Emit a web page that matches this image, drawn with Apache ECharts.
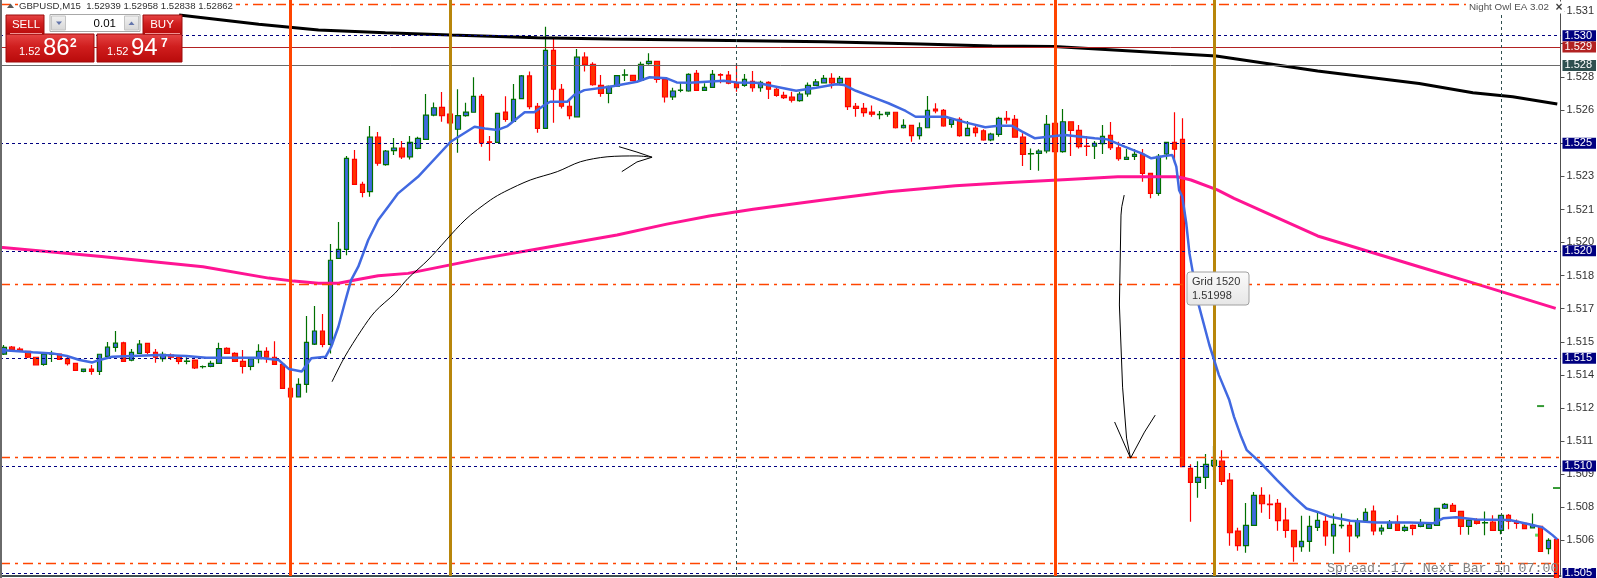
<!DOCTYPE html>
<html><head><meta charset="utf-8">
<script src="https://cdn.jsdelivr.net/npm/echarts@6/dist/echarts.min.js"></script>
<style>html,body{margin:0;padding:0;background:#fff;overflow:hidden}#c{width:1597px;height:578px}</style>
</head><body><div id="c"></div>
<script>
// ---------------- data ----------------
const symbolTitle = 'GBPUSD,M15  1.52939 1.52958 1.52838 1.52862';
const ohlc = [
[1.51520,1.51551,1.51515,1.51562],[1.51552,1.51542,1.51535,1.51557],[1.51543,1.51532,1.51529,1.51552],[1.51532,1.51505,1.51501,1.51532],
[1.51505,1.51470,1.51470,1.51505],[1.51472,1.51520,1.51465,1.51526],[1.51520,1.51521,1.51483,1.51535],[1.51520,1.51495,1.51495,1.51520],
[1.51498,1.51475,1.51467,1.51507],[1.51477,1.51444,1.51444,1.51477],[1.51439,1.51450,1.51435,1.51453],[1.51450,1.51439,1.51424,1.51469],
[1.51439,1.51519,1.51422,1.51519],[1.51509,1.51552,1.51507,1.51576],[1.51551,1.51571,1.51531,1.51627],[1.51572,1.51486,1.51486,1.51577],
[1.51491,1.51528,1.51487,1.51543],[1.51523,1.51566,1.51520,1.51585],[1.51570,1.51528,1.51519,1.51570],[1.51528,1.51505,1.51479,1.51543],
[1.51498,1.51519,1.51484,1.51531],[1.51515,1.51505,1.51492,1.51523],[1.51505,1.51486,1.51472,1.51515],[1.51486,1.51487,1.51473,1.51505],
[1.51492,1.51456,1.51450,1.51495],[1.51461,1.51462,1.51453,1.51467],[1.51463,1.51477,1.51459,1.51489],[1.51477,1.51545,1.51475,1.51572],
[1.51546,1.51523,1.51520,1.51552],[1.51523,1.51486,1.51483,1.51528],[1.51486,1.51463,1.51430,1.51539],[1.51463,1.51498,1.51445,1.51505],
[1.51498,1.51532,1.51477,1.51566],[1.51532,1.51505,1.51479,1.51552],[1.51505,1.51472,1.51469,1.51579],[1.51472,1.51360,1.51360,1.51472],
[1.51360,1.51321,1.51293,1.51399],[1.51321,1.51379,1.51319,1.51407],[1.51379,1.51574,1.51340,1.51697],[1.51566,1.51627,1.51562,1.51743],
[1.51627,1.51565,1.51551,1.51706],[1.51565,1.51956,1.51523,1.52031],[1.51965,1.52007,1.51965,1.52134],[1.52007,1.52430,1.51979,1.52441],
[1.52425,1.52309,1.52309,1.52469],[1.52309,1.52272,1.52249,1.52321],[1.52275,1.52528,1.52251,1.52580],[1.52528,1.52407,1.52395,1.52552],
[1.52401,1.52464,1.52395,1.52469],[1.52466,1.52478,1.52445,1.52524],[1.52478,1.52437,1.52427,1.52510],[1.52437,1.52504,1.52425,1.52534],
[1.52476,1.52523,1.52472,1.52530],[1.52518,1.52631,1.52518,1.52729],[1.52631,1.52665,1.52625,1.52690],[1.52667,1.52628,1.52600,1.52738],
[1.52635,1.52595,1.52585,1.52701],[1.52565,1.52628,1.52456,1.52751],[1.52628,1.52645,1.52623,1.52688],[1.52644,1.52718,1.52644,1.52807],
[1.52718,1.52502,1.52484,1.52729],[1.52507,1.52504,1.52419,1.52534],[1.52504,1.52639,1.52504,1.52639],[1.52645,1.52611,1.52600,1.52718],
[1.52602,1.52704,1.52602,1.52775],[1.52707,1.52813,1.52707,1.52817],[1.52813,1.52670,1.52658,1.52834],[1.52672,1.52569,1.52549,1.52687],
[1.52569,1.52932,1.52569,1.53042],[1.52932,1.52751,1.52595,1.52988],[1.52751,1.52672,1.52662,1.52775],[1.52672,1.52628,1.52611,1.52709],
[1.52623,1.52900,1.52623,1.52938],[1.52900,1.52867,1.52833,1.52923],[1.52867,1.52772,1.52767,1.52876],[1.52769,1.52732,1.52716,1.52817],
[1.52732,1.52765,1.52686,1.52769],[1.52765,1.52814,1.52765,1.52814],[1.52817,1.52818,1.52789,1.52844],[1.52816,1.52791,1.52791,1.52816],
[1.52793,1.52867,1.52793,1.52879],[1.52870,1.52881,1.52865,1.52918],[1.52881,1.52797,1.52781,1.52881],[1.52797,1.52716,1.52689,1.52797],
[1.52716,1.52743,1.52701,1.52758],[1.52746,1.52747,1.52737,1.52781],[1.52743,1.52820,1.52740,1.52825],[1.52825,1.52746,1.52743,1.52840],
[1.52746,1.52760,1.52744,1.52779],[1.52760,1.52820,1.52760,1.52840],[1.52819,1.52817,1.52779,1.52825],[1.52817,1.52779,1.52774,1.52836],
[1.52779,1.52758,1.52740,1.52872],[1.52769,1.52797,1.52763,1.52822],[1.52788,1.52758,1.52740,1.52836],[1.52758,1.52783,1.52740,1.52791],
[1.52783,1.52751,1.52706,1.52788],[1.52751,1.52723,1.52716,1.52760],[1.52723,1.52712,1.52706,1.52740],[1.52714,1.52700,1.52689,1.52740],
[1.52698,1.52729,1.52693,1.52740],[1.52729,1.52769,1.52716,1.52783],[1.52769,1.52785,1.52766,1.52799],[1.52781,1.52802,1.52779,1.52817],
[1.52802,1.52781,1.52754,1.52825],[1.52781,1.52802,1.52774,1.52813],[1.52802,1.52670,1.52654,1.52805],[1.52672,1.52662,1.52623,1.52687],
[1.52662,1.52642,1.52623,1.52687],[1.52645,1.52635,1.52623,1.52676],[1.52633,1.52634,1.52611,1.52650],[1.52635,1.52644,1.52623,1.52647],
[1.52644,1.52572,1.52568,1.52644],[1.52572,1.52583,1.52568,1.52611],[1.52583,1.52535,1.52507,1.52583],[1.52535,1.52572,1.52518,1.52597],
[1.52572,1.52653,1.52572,1.52720],[1.52659,1.52650,1.52639,1.52686],[1.52653,1.52581,1.52577,1.52659],[1.52588,1.52611,1.52572,1.52616],
[1.52611,1.52535,1.52530,1.52621],[1.52535,1.52569,1.52534,1.52603],[1.52571,1.52549,1.52530,1.52583],[1.52558,1.52516,1.52512,1.52565],
[1.52516,1.52542,1.52509,1.52549],[1.52541,1.52616,1.52530,1.52623],[1.52616,1.52609,1.52591,1.52650],[1.52611,1.52528,1.52528,1.52631],
[1.52528,1.52448,1.52394,1.52546],[1.52451,1.52452,1.52376,1.52476],[1.52453,1.52464,1.52372,1.52472],[1.52464,1.52588,1.52453,1.52631],
[1.52593,1.52461,1.52376,1.52593],[1.52461,1.52600,1.52456,1.52659],[1.52600,1.52560,1.52441,1.52600],[1.52560,1.52484,1.52476,1.52585],
[1.52487,1.52485,1.52441,1.52534],[1.52486,1.52500,1.52427,1.52510],[1.52498,1.52532,1.52450,1.52585],[1.52537,1.52479,1.52469,1.52599],
[1.52479,1.52428,1.52419,1.52507],[1.52425,1.52435,1.52422,1.52473],[1.52439,1.52448,1.52422,1.52473],[1.52448,1.52360,1.52321,1.52473],
[1.52360,1.52267,1.52244,1.52360],[1.52267,1.52439,1.52256,1.52450],[1.52450,1.52504,1.52425,1.52507],[1.52504,1.52472,1.52407,1.52644],
[1.52518,1.50996,1.50996,1.52616],[1.50988,1.50923,1.50740,1.51007],[1.50923,1.50947,1.50852,1.51022],[1.50947,1.51007,1.50893,1.51055],
[1.51001,1.51026,1.50980,1.51092],[1.51022,1.50928,1.50911,1.51073],[1.50934,1.50689,1.50629,1.50967],[1.50697,1.50629,1.50605,1.50712],
[1.50629,1.50723,1.50596,1.50827],[1.50723,1.50863,1.50723,1.50878],[1.50863,1.50824,1.50782,1.50901],[1.50822,1.50820,1.50753,1.50867],
[1.50826,1.50745,1.50698,1.50846],[1.50748,1.50700,1.50666,1.50805],[1.50700,1.50624,1.50554,1.50700],[1.50624,1.50649,1.50601,1.50768],
[1.50649,1.50719,1.50601,1.50768],[1.50714,1.50747,1.50697,1.50790],[1.50742,1.50675,1.50629,1.50771],[1.50675,1.50728,1.50591,1.50779],
[1.50722,1.50723,1.50709,1.50779],[1.50723,1.50675,1.50598,1.50748],[1.50675,1.50742,1.50663,1.50756],[1.50745,1.50784,1.50742,1.50803],
[1.50790,1.50698,1.50678,1.50816],[1.50698,1.50711,1.50680,1.50726],[1.50709,1.50737,1.50706,1.50748],[1.50737,1.50700,1.50700,1.50771],
[1.50700,1.50714,1.50694,1.50726],[1.50723,1.50709,1.50678,1.50728],[1.50719,1.50733,1.50715,1.50753],[1.50709,1.50728,1.50706,1.50733],
[1.50723,1.50803,1.50723,1.50803],[1.50803,1.50821,1.50799,1.50827],[1.50816,1.50788,1.50785,1.50827],[1.50788,1.50719,1.50680,1.50788],
[1.50719,1.50748,1.50680,1.50756],[1.50748,1.50733,1.50728,1.50756],[1.50735,1.50736,1.50677,1.50788],[1.50739,1.50700,1.50697,1.50771],
[1.50700,1.50770,1.50682,1.50770],[1.50770,1.50743,1.50705,1.50776],[1.50742,1.50733,1.50708,1.50751],[1.50733,1.50708,1.50705,1.50733],
[1.50712,1.50723,1.50711,1.50779],[1.50719,1.50602,1.50602,1.50719],[1.50615,1.50654,1.50589,1.50664],[1.50658,1.50469,1.50469,1.50658]
];
const categories = ohlc.map((_, i) => String(i));

// moving averages: [bar index, price]
const blueMA = [[-0.5,1.51539],[3.6,1.51528],[6.1,1.51523],[7.9,1.51511],[9.5,1.51492],[11.1,1.51481],[12,1.51492],[13.6,1.51507],[16.1,1.51511],[19.5,1.51515],[22.9,1.51511],[25.4,1.51503],[32,1.51503],[34.5,1.51492],[35.8,1.51450],[37.4,1.51439],[38.6,1.51500],[40.4,1.51507],[41.1,1.51554],[42,1.51647],[42.9,1.51771],[43.6,1.51864],[44.5,1.51926],[45.75,1.52050],[47,1.52143],[48.25,1.52205],[49.5,1.52267],[52,1.52344],[56.1,1.52507],[59.1,1.52577],[60.4,1.52569],[62,1.52562],[63.25,1.52580],[65.4,1.52644],[66.6,1.52644],[67.9,1.52678],[68.6,1.52693],[70.75,1.52693],[71.6,1.52724],[72.9,1.52747],[76.1,1.52763],[79.5,1.52786],[81.1,1.52807],[83.25,1.52802],[84.5,1.52783],[86.1,1.52781],[90.4,1.52791],[92,1.52783],[94.5,1.52781],[97,1.52763],[99.5,1.52744],[102,1.52758],[104.5,1.52774],[105.5,1.52771],[107,1.52744],[109.5,1.52709],[111.1,1.52686],[113.25,1.52650],[114.5,1.52623],[118.25,1.52623],[120.75,1.52597],[123.25,1.52574],[124.9,1.52581],[126.6,1.52581],[127.9,1.52554],[129.5,1.52523],[131.1,1.52530],[133.25,1.52538],[137,1.52523],[138.6,1.52518],[140.75,1.52484],[142.9,1.52453],[144.1,1.52430],[145.75,1.52441],[146.75,1.52445],[147.25,1.52391],[147.6,1.52282],[148,1.52251],[148.5,1.52128],[148.9,1.51988],[150,1.51757],[151.4,1.51562],[152.6,1.51422],[153.9,1.51306],[154.5,1.51228],[155.4,1.51135],[156.1,1.51073],[157.9,1.51012],[159.9,1.50934],[162,1.50856],[163.6,1.50802],[164.9,1.50787],[166.6,1.50763],[169.1,1.50745],[172.4,1.50737],[176.6,1.50737],[179.5,1.50733],[180.75,1.50756],[182.4,1.50761],[184.9,1.50751],[189.1,1.50748],[192,1.50725],[193.25,1.50714],[194.5,1.50678],[195.1,1.50658]];
const pinkMA = [[-0.5,1.52017],[12.25,1.51973],[25,1.51926],[33.25,1.51873],[36.4,1.51859],[39.5,1.51849],[42,1.51849],[44.1,1.51864],[47,1.51884],[50.75,1.51895],[59.5,1.51960],[68.6,1.52019],[77,1.52073],[83.25,1.52124],[88.6,1.52162],[94.1,1.52193],[102.9,1.52236],[111.1,1.52275],[119.5,1.52302],[125.75,1.52316],[133.6,1.52332],[139.9,1.52344],[147.4,1.52344],[149.1,1.52329],[152.4,1.52283],[154.5,1.52244],[165,1.52069],[177.75,1.51926],[184.5,1.51851],[194.9,1.51732]];
const blackMA = [[22,1.53096],[32,1.53053],[39.5,1.53026],[47.9,1.53014],[56.1,1.53003],[67,1.52991],[76.1,1.52985],[86.1,1.52980],[103,1.52972],[115.1,1.52961],[124.1,1.52952],[131.9,1.52950],[152.25,1.52906],[165,1.52836],[177.75,1.52778],[184.5,1.52735],[189.5,1.52716],[195.1,1.52682]];

// hand-drawn arrows
const arrowUp = [[41.2,1.51391],[42.8,1.51507],[44.9,1.51631],[46.6,1.51717],[49.1,1.51802],[50.75,1.51872],[53.25,1.51957],[57.9,1.52143],[61.1,1.52236],[62.9,1.52275],[66.1,1.52329],[69.5,1.52368],[72.4,1.52414],[75.75,1.52437],[79.5,1.52441],[81.4,1.52435]];
const arrowUpHead = [[77.25,1.52484],[79.5,1.52459],[81.4,1.52435],[79.5,1.52413],[77.6,1.52368]];
const arrowDown = [[140.7,1.52259],[140.4,1.52205],[140.3,1.52166],[140.1,1.51748],[140.5,1.51366],[141,1.51129],[141.5,1.51036]];
const arrowDownHead = [[139.5,1.51204],[140.5,1.51120],[141.5,1.51036],[143.25,1.51157],[144.6,1.51236]];

// small indicator marks
const markDashes = [[193,1.51278],[195,1.50897]];
const markCross = [[192.5,1.50678]];

// axis ticks and levels
const priceTicks = [1.53115,1.52963,1.52809,1.52654,1.52500,1.52346,1.52192,1.52039,1.51885,1.51731,1.51577,1.51423,1.51270,1.51116,1.50962,1.50808,1.50654];
const roundLevels = [1.530,1.525,1.520,1.515,1.510,1.505];
const roundLevelLabels = ['1.530','1.525','1.520','1.515','1.510','1.505'];
const gridLevels = [1.53145,1.51844,1.51042,1.50547];
const askPrice = 1.52947, askLabel = '1.529';
const bidPrice = 1.52862, bidLabel = '1.528';
const sessionLinesA = [36,132];
const sessionLinesB = [56,152];
const daySeparators = [92,188];
const sellQuote = ['1.52','86','2'];
const buyQuote = ['1.52','94','7'];
const lotSize = '0.01';
const gridTip = ['Grid 1520','1.51998'];
const eaName = 'Night Owl EA 3.02';
const spreadText = 'Spread: 17. Next Bar in 07:00';

// ---------------- chart ----------------
const FONT = '"Liberation Sans", Arial, sans-serif';
const chart = echarts.init(document.getElementById('c'), null, {renderer: 'canvas'});

const boxLabel = (text, bg) => ({show: true, position: 'end', distance: 2, formatter: text, color: '#fff',
  backgroundColor: bg, padding: [1, 4, 0, 2], fontSize: 11, lineHeight: 10, fontFamily: FONT});

const levelLines = [];
roundLevels.forEach((v, i) => levelLines.push({
  yAxis: v, lineStyle: {color: '#000080', width: 1, type: [3, 3]}, label: boxLabel(roundLevelLabels[i], '#000080')
}));
gridLevels.forEach(v => levelLines.push({
  yAxis: v, lineStyle: {color: '#FF4500', width: 1.3, type: [10, 5, 3, 5]}, label: {show: false}
}));
levelLines.push({yAxis: askPrice, lineStyle: {color: '#B22222', width: 1, type: 'solid'}, label: boxLabel(askLabel, '#B22222')});
levelLines.push({yAxis: bidPrice, lineStyle: {color: '#6a6a6a', width: 1, type: 'solid'}, label: boxLabel(bidLabel, '#2F4F4F')});
daySeparators.forEach(k => levelLines.push({
  xAxis: k, lineStyle: {color: '#2F4F4F', width: 1, type: [3, 3]}, label: {show: false}
}));

const sessionMarks = [];
sessionLinesA.forEach(k => sessionMarks.push({xAxis: k, lineStyle: {color: '#FF4500', width: 3, type: 'solid'}, label: {show: false}}));
sessionLinesB.forEach(k => sessionMarks.push({xAxis: k, lineStyle: {color: '#B8860B', width: 3, type: 'solid'}, label: {show: false}}));

function lineSeries(data, color, width, z, extra) {
  return Object.assign({type: 'line', xAxisIndex: 1, yAxisIndex: 0, data: data, showSymbol: false, symbol: 'none',
    silent: true, z: z, lineStyle: {color: color, width: width}, animation: false}, extra || {});
}

const redFill = {type: 'linear', x: 0, y: 0, x2: 0, y2: 1, colorStops: [
  {offset: 0, color: '#e64646'}, {offset: 0.45, color: '#d01e1e'}, {offset: 1, color: '#b80a0a'}]};
const grayBtn = {type: 'linear', x: 0, y: 0, x2: 0, y2: 1, colorStops: [
  {offset: 0, color: '#f2f2f2'}, {offset: 1, color: '#d6d6d6'}]};
const tipFill = {type: 'linear', x: 0, y: 0, x2: 0, y2: 1, colorStops: [
  {offset: 0, color: '#fbfbfb'}, {offset: 1, color: '#e6e6e6'}]};

function txt(x, y, text, font, fill, align, extra) {
  return Object.assign({type: 'text', z: 120, silent: true, style: Object.assign({
    x: x, y: y, text: text, font: font, fill: fill,
    textAlign: align || 'left', textVerticalAlign: 'middle', align: align || 'left', verticalAlign: 'middle'
  }, extra || {})});
}

const graphics = [
  {type: 'line', z: 50, silent: true, shape: {x1: 1, y1: 0, x2: 1, y2: 578}, style: {stroke: '#6a6a6a', lineWidth: 2}},
  // title
  txt(18, 6.5, symbolTitle, '9.6px ' + FONT, '#303030', 'left', {backgroundColor: '#fff', padding: [1, 3, 1, 1]}),
  {type: 'polygon', z: 121, silent: true, shape: {points: [[7, 8], [14, 8], [10.5, 3.5]]}, style: {fill: '#5a5a5a'}},
  // EA name
  txt(1551, 7.5, eaName, '9.8px ' + FONT, '#505050', 'right', {backgroundColor: '#fff', padding: [1, 2, 1, 3]}),
  txt(1559, 7.5, '×', 'bold 12px ' + FONT, '#404040', 'center', {backgroundColor: '#fff', padding: [0, 2, 0, 2]}),
  // SELL / BUY panel
  {type: 'rect', z: 110, silent: true, shape: {x: 6, y: 34, width: 88, height: 28}, style: {fill: redFill, stroke: '#9c0c0c', lineWidth: 1}},
  {type: 'rect', z: 110, silent: true, shape: {x: 97, y: 34, width: 85, height: 28}, style: {fill: redFill, stroke: '#9c0c0c', lineWidth: 1}},
  {type: 'rect', z: 111, silent: true, shape: {x: 6, y: 15, width: 38, height: 19}, style: {fill: redFill, stroke: '#9c0c0c', lineWidth: 1}},
  {type: 'rect', z: 111, silent: true, shape: {x: 143, y: 15, width: 39, height: 19}, style: {fill: redFill, stroke: '#9c0c0c', lineWidth: 1}},
  {type: 'line', z: 112, silent: true, shape: {x1: 10, y1: 33.5, x2: 42, y2: 33.5}, style: {stroke: '#f09090', lineWidth: 1}},
  {type: 'line', z: 112, silent: true, shape: {x1: 145, y1: 33.5, x2: 180, y2: 33.5}, style: {stroke: '#f09090', lineWidth: 1}},
  txt(26, 24.5, 'SELL', '11.5px ' + FONT, '#ffffff', 'center'),
  txt(162, 24.5, 'BUY', '11.5px ' + FONT, '#ffffff', 'center'),
  {type: 'rect', z: 110, silent: true, shape: {x: 50, y: 14.5, width: 90, height: 17}, style: {fill: '#ffffff', stroke: '#a8a8a8', lineWidth: 1}},
  {type: 'rect', z: 111, silent: true, shape: {x: 51.5, y: 16, width: 14, height: 14}, style: {fill: grayBtn, stroke: '#c4c4c4', lineWidth: 1}},
  {type: 'rect', z: 111, silent: true, shape: {x: 124.5, y: 16, width: 14, height: 14}, style: {fill: grayBtn, stroke: '#c4c4c4', lineWidth: 1}},
  {type: 'polygon', z: 112, silent: true, shape: {points: [[56, 21.5], [62, 21.5], [59, 25]]}, style: {fill: '#6476ac'}},
  {type: 'polygon', z: 112, silent: true, shape: {points: [[128.5, 25], [134.5, 25], [131.5, 21.5]]}, style: {fill: '#6476ac'}},
  txt(116, 23.5, lotSize, '11.5px ' + FONT, '#000000', 'right'),
  txt(19, 52, sellQuote[0], '11px ' + FONT, '#ffffff', 'left'),
  txt(43, 48, sellQuote[1], '24px ' + FONT, '#ffffff', 'left'),
  txt(70, 44, sellQuote[2], 'bold 12px ' + FONT, '#ffffff', 'left'),
  txt(107, 52, buyQuote[0], '11px ' + FONT, '#ffffff', 'left'),
  txt(131, 48, buyQuote[1], '24px ' + FONT, '#ffffff', 'left'),
  txt(161, 44, buyQuote[2], 'bold 12px ' + FONT, '#ffffff', 'left'),
  // grid tooltip
  {type: 'rect', z: 110, silent: true, shape: {x: 1187, y: 272, width: 62, height: 33, r: 3}, style: {fill: tipFill, stroke: '#a0a0a0', lineWidth: 1}},
  txt(1192, 281.5, gridTip[0], '11px ' + FONT, '#333333', 'left'),
  txt(1192, 295.5, gridTip[1], '11px ' + FONT, '#333333', 'left'),
  // spread text
  txt(1327, 568, spreadText, '13.3px "Liberation Mono", "DejaVu Sans Mono", monospace', '#808080', 'left')
];

const option = {
  animation: false,
  backgroundColor: '#ffffff',
  grid: {left: 0, top: 0, width: 1568, bottom: 2, containLabel: false},
  xAxis: [
    {type: 'category', data: categories, boundaryGap: true,
      axisLine: {show: true, lineStyle: {color: '#3f4f4f', width: 2}}, axisTick: {show: false}, axisLabel: {show: false}, splitLine: {show: false}},
    {type: 'value', min: -0.5, max: categories.length - 0.5, show: false}
  ],
  yAxis: [{
    type: 'value', position: 'right', min: 1.50488, max: 1.53166, scale: true,
    axisLine: {show: true, onZero: false, lineStyle: {color: '#505050', width: 1}},
    axisTick: {show: true, length: 4, inside: false, customValues: priceTicks, lineStyle: {color: '#505050'}},
    axisLabel: {show: true, customValues: priceTicks, margin: 6, color: '#303030', fontSize: 11, fontFamily: FONT,
      formatter: v => v.toFixed(5).slice(0, 5)},
    splitLine: {show: false}
  }],
  graphic: {elements: graphics},
  series: [
    {type: 'line', name: 'levels', xAxisIndex: 0, yAxisIndex: 0, data: [], z: 1, silent: true,
      markLine: {silent: true, symbol: ['none', 'none'], precision: 6, animation: false, data: levelLines}},
    {type: 'candlestick', name: 'GBPUSD', xAxisIndex: 0, yAxisIndex: 0, data: ohlc, barWidth: 5, z: 3, silent: true, clip: true,
      itemStyle: {color: '#3F6AE0', color0: '#FF3300', borderColor: '#007000', borderColor0: '#FF0000', borderColorDoji: '#007000', borderWidth: 1.2}},
    lineSeries(pinkMA, '#FF1493', 3, 4),
    lineSeries(blackMA, '#000000', 3, 4),
    lineSeries(blueMA, '#4169E1', 2.5, 5),
    lineSeries(arrowUp, '#000000', 1, 6, {smooth: 0.3}),
    lineSeries(arrowUpHead, '#000000', 1, 6),
    lineSeries(arrowDown, '#000000', 1, 6),
    lineSeries(arrowDownHead, '#000000', 1, 6),
    {type: 'scatter', xAxisIndex: 1, yAxisIndex: 0, data: markDashes, symbol: 'rect', symbolSize: [7, 2], z: 6, silent: true,
      itemStyle: {color: '#008000'}},
    {type: 'scatter', xAxisIndex: 1, yAxisIndex: 0, data: markCross, symbol: 'rect', symbolSize: [3, 3], z: 6, silent: true,
      itemStyle: {color: '#33CC33'}},
    {type: 'line', name: 'sessions', xAxisIndex: 0, yAxisIndex: 0, data: [], z: 8, silent: true,
      markLine: {silent: true, symbol: ['none', 'none'], precision: 6, animation: false, data: sessionMarks}}
  ]
};
chart.setOption(option);
</script>
</body></html>
